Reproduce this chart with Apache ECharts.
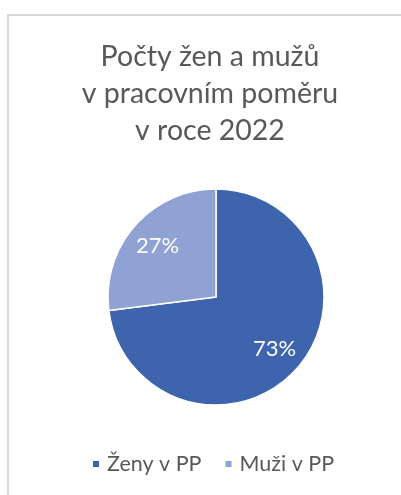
<!DOCTYPE html>
<html>
<head>
<meta charset="utf-8">
<script src="https://cdn.jsdelivr.net/npm/echarts@6/dist/echarts.min.js"></script>
<style>
  html, body { margin: 0; padding: 0; background: #fff; }
  #main { width: 401px; height: 495px; }
</style>
</head>
<body>
<div id="main"></div>
<script>
// data
var categories = ['Ženy v PP', 'Muži v PP'];
var values = [73, 27];
var colors = ['#3d64ac', '#8fa2d3'];

var myChart = echarts.init(document.getElementById('main'));

var pieData = [];
for (var i = 0; i < categories.length; i++) {
    pieData.push({ name: categories[i], value: values[i], itemStyle: { color: colors[i] } });
}

// second invisible pie only for the labels (puts them further from the center)
var labelData = [];
for (var j = 0; j < categories.length; j++) {
    labelData.push({ name: categories[j], value: values[j], itemStyle: { color: 'rgba(0,0,0,0)' } });
}

var option = {
    animation: false,
    title: {
        text: 'Počty žen a mužů\nv pracovním poměru\nv roce 2022',
        left: 205,
        textAlign: 'center',
        top: 33,
        textStyle: {
            fontFamily: 'Lato',
            fontSize: 28.5,
            fontWeight: 'normal',
            color: '#595959',
            lineHeight: 37
        }
    },
    legend: {
        data: categories,
        bottom: 15,
        left: 86,
        icon: 'rect',
        itemWidth: 8,
        itemHeight: 8,
        itemGap: 22,
        textStyle: {
            fontFamily: 'Lato',
            fontSize: 21.5,
            color: '#595959',
            padding: [0, 0, 0, 2]
        }
    },
    graphic: [{
        type: 'rect',
        shape: { x: 8, y: 15, width: 420, height: 500 },
        style: { fill: 'none', stroke: '#d9d9d9', lineWidth: 2 },
        silent: true
    }],
    series: [{
        name: 'pp',
        type: 'pie',
        center: [216, 297],
        radius: [0, 108],
        startAngle: 90,
        clockwise: true,
        label: { show: false },
        labelLine: { show: false },
        itemStyle: { borderColor: '#fff', borderWidth: 1.5 },
        data: pieData
    }, {
        name: 'labels',
        type: 'pie',
        center: [216, 297],
        radius: [0, 150],
        startAngle: 90,
        clockwise: true,
        silent: true,
        legendHoverLink: false,
        label: {
            show: true,
            position: 'inside',
            formatter: '{d}%',
            fontFamily: 'Lato',
            fontSize: 22,
            color: '#fff'
        },
        labelLine: { show: false },
        data: labelData
    }]
};

myChart.setOption(option);
</script>
</body>
</html>
